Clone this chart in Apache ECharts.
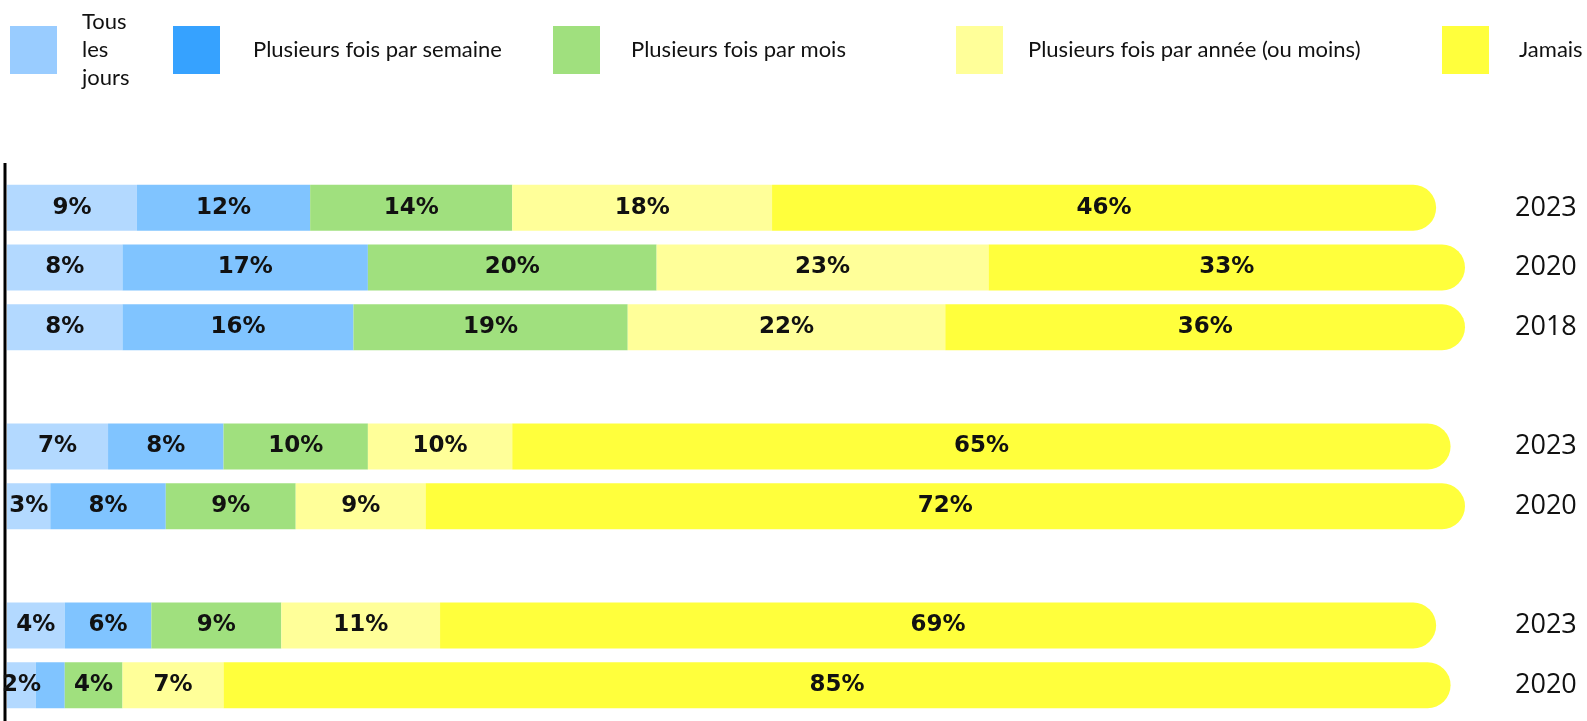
<!DOCTYPE html>
<html lang="fr" style="height: 100%">
<head>
  <meta charset="utf-8">
</head>
<body style="height: 100%; margin: 0; background: #fff">
  <div id="container" style="height: 100%"></div>

  <script type="text/javascript" src="https://cdn.jsdelivr.net/npm/echarts@6/dist/echarts.min.js"></script>

  <script type="text/javascript">
    // rows top to bottom, '' = empty slot between groups
    var years = ['2023', '2020', '2018', '', '2023', '2020', '', '2023', '2020'];

    var seriesNames = [
      'Tous les jours',
      'Plusieurs fois par semaine',
      'Plusieurs fois par mois',
      'Plusieurs fois par année (ou moins)',
      'Jamais'
    ];

    var tousLesJours = [9, 8, 8, '-', 7, 3, '-', 4, 2];
    var parSemaine = [12, 17, 16, '-', 8, 8, '-', 6, { value: 2, label: { show: false } }];
    var parMois = [14, 20, 19, '-', 10, 9, '-', 9, 4];
    var parAnnee = [18, 23, 22, '-', 10, 9, '-', 11, 7];
    var jamais = [46, 33, 36, '-', 65, 72, '-', 69, 85];

    var barColors = ['#b3d9ff', '#80c4ff', '#a0e07e', '#ffff99', '#ffff3c'];
    var legendColors = ['#99ccff', '#36a2ff', '#a0e07e', '#ffff99', '#ffff3c'];

    var dom = document.getElementById('container');
    var myChart = echarts.init(dom, null, { renderer: 'canvas' });

    var legendLeft = [10, 173, 553, 956, 1442];
    var legendTop = [8, 26, 26, 26, 26];
    var legendPad = [20, 28, 26, 20, 25];

    var legends = seriesNames.map(function (name, i) {
      return {
        left: legendLeft[i],
        top: legendTop[i],
        padding: 0,
        itemWidth: 47,
        itemHeight: 48,
        selectedMode: false,
        icon: 'rect',
        data: [{ name: name, itemStyle: { color: legendColors[i] } }],
        formatter: function (n) {
          return n === 'Tous les jours' ? 'Tous\nles\njours' : n;
        },
        textStyle: {
          fontFamily: 'Lato',
          fontSize: 22,
          color: '#111',
          lineHeight: 28,
          padding: [0, 0, 0, legendPad[i]]
        }
      };
    });

    var allData = [tousLesJours, parSemaine, parMois, parAnnee, jamais];

    var series = seriesNames.map(function (name, i) {
      return {
        name: name,
        type: 'bar',
        stack: 'total',
        barWidth: 46,
        data: allData[i],
        itemStyle: {
          color: barColors[i],
          borderRadius: i === 4 ? [0, 23, 23, 0] : 0
        },
        label: {
          show: true,
          position: 'inside',
          formatter: '{c}%',
          fontFamily: 'DejaVu Sans',
          fontWeight: 'bold',
          fontSize: 23,
          color: '#111'
        }
      };
    });

    var option = {
      animation: false,
      legend: legends,
      grid: { left: 7, right: 122, top: 178, bottom: 6 },
      xAxis: {
        type: 'value',
        min: 0,
        max: 101,
        show: false
      },
      yAxis: [
        {
          type: 'category',
          inverse: true,
          data: years,
          axisLine: { show: false },
          axisTick: { show: false },
          axisLabel: { show: false }
        },
        {
          type: 'category',
          inverse: true,
          position: 'right',
          data: years,
          axisLine: { show: false },
          axisTick: { show: false },
          axisLabel: {
            margin: 50,
            align: 'left',
            fontFamily: 'Open Sans',
            fontSize: 27,
            color: '#111'
          }
        }
      ],
      graphic: [
        {
          type: 'line',
          shape: { x1: 5, y1: 163, x2: 5, y2: 721 },
          style: { stroke: '#000', lineWidth: 3 }
        }
      ],
      series: series
    };

    myChart.setOption(option);
    window.addEventListener('resize', myChart.resize);
  </script>
</body>
</html>
